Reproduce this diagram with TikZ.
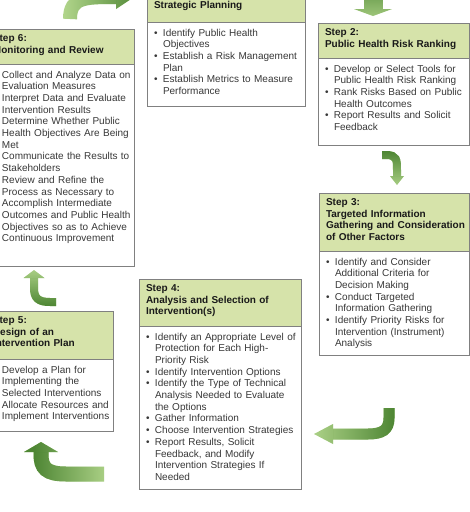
\documentclass[tikz,border=0pt]{standalone}
\usepackage{fontspec}
\setmainfont{Liberation Sans}
\usetikzlibrary{positioning,arrows.meta,fadings}

\definecolor{hdrgreen}{RGB}{214,227,170}
\definecolor{boxgray}{RGB}{128,128,128}
\definecolor{leafgreen}{RGB}{178,214,140}
\definecolor{mossgreen}{RGB}{78,134,52}

% the dark part of an arrow stays solid on one side
\tikzfading[name=keep right, left color=transparent!100, right color=transparent!0]
\tikzfading[name=keep left, left color=transparent!0, right color=transparent!100]
\tikzfading[name=keep top, top color=transparent!0, bottom color=transparent!100]
\tikzfading[name=keep bottom, top color=transparent!100, bottom color=transparent!0]

\hyphenpenalty=10000
\hfuzz=20pt

\newcommand{\stepitem}[1]{\hangindent=9pt\hangafter=1\noindent\hbox to 9pt{\textbullet\hfil}#1\par}

\tikzset{
  hdr/.style={draw=boxgray, line width=0.8pt, fill=hdrgreen, anchor=north west, outer sep=0pt,
    inner xsep=3pt, inner ysep=4.5pt, text height=8pt, align=left,
    execute at begin node={\leftskip=4pt\relax},
    font=\fontsize{10}{11.7}\selectfont\bfseries, text=black!90},
  bodybox/.style={draw=boxgray, line width=0.8pt, fill=white, outer sep=0pt,
    inner xsep=3pt, inner ysep=6pt, text height=8pt, align=left,
    execute at begin node={\leftskip=4pt\relax},
    font=\fontsize{10}{11.7}\selectfont, text=black!78},
  bentarrow/.style={line width=#1, line cap=butt},
}

\begin{document}
\begin{tikzpicture}[x=1pt, y=-1pt]
  \useasboundingbox (0,0) rectangle (470,512);

  % steps
  \node[hdr, text width=152pt, text height=16.5pt, text depth=9.5pt] (s1) at (147,-13) {Strategic Planning};
  \node[bodybox, below=0pt of s1, text width=152pt, text depth=64pt] (b1) {%
    \stepitem{Identify Public Health\newline Objectives}%
    \stepitem{Establish a Risk Management\newline Plan}%
    \stepitem{Establish Metrics to Measure\newline Performance}};

  \node[hdr, text width=145pt, text depth=18pt] (s2) at (318,23) {Step 2:\\Public Health Risk Ranking};
  \node[bodybox, below=0pt of s2, text width=145pt, text depth=67pt] (b2) {%
    \stepitem{Develop or Select Tools for\newline Public Health Risk Ranking}%
    \stepitem{Rank Risks Based on Public\newline Health Outcomes}%
    \stepitem{Report Results and Solicit\newline Feedback}};

  \node[hdr, text width=144pt, text depth=41pt] (s3) at (319,193) {Step 3:\\Targeted Information\\Gathering and Consideration\\of Other Factors};
  \node[bodybox, below=0pt of s3, text width=144pt, text depth=84pt] (b3) {%
    \stepitem{Identify and Consider\newline Additional Criteria for\newline Decision Making}%
    \stepitem{Conduct Targeted\newline Information Gathering}%
    \stepitem{Identify Priority Risks for\newline Intervention (Instrument)\newline Analysis}};

  \node[hdr, text width=156pt, text depth=30pt] (s4) at (139,279) {Step 4:\\Analysis and Selection of\\Intervention(s)};
  \node[bodybox, below=0pt of s4, text width=156pt, text depth=143pt] (b4) {%
    \stepitem{Identify an Appropriate Level of\newline Protection for Each High-\newline Priority Risk}%
    \stepitem{Identify Intervention Options}%
    \stepitem{Identify the Type of Technical\newline Analysis Needed to Evaluate\newline the Options}%
    \stepitem{Gather Information}%
    \stepitem{Choose Intervention Strategies}%
    \stepitem{Report Results, Solicit\newline Feedback, and Modify\newline Intervention Strategies If\newline Needed}};

  \node[hdr, text width=121pt, text depth=31pt] (s5) at (-14,311) {Step 5:\\Design of an\\Intervention Plan};
  \node[bodybox, below=0pt of s5, text width=121pt, text depth=52pt] (b5) {%
    \stepitem{Develop a Plan for\newline Implementing the\newline Selected Interventions}%
    \stepitem{Allocate Resources and\newline Implement Interventions}};

  \node[hdr, text width=142pt, text depth=18pt] (s6) at (-14,29) {Step 6:\\Monitoring and Review};
  \node[bodybox, below=0pt of s6, text width=142pt, text depth=182pt] (b6) {%
    \stepitem{Collect and Analyze Data on\newline Evaluation Measures}%
    \stepitem{Interpret Data and Evaluate\newline Intervention Results}%
    \stepitem{Determine Whether Public\newline Health Objectives Are Being\newline Met}%
    \stepitem{Communicate the Results to\newline Stakeholders}%
    \stepitem{Review and Refine the\newline Process as Necessary to\newline Accomplish Intermediate\newline Outcomes and Public Health\newline Objectives so as to Achieve\newline Continuous Improvement}};

  % bent arrows between the steps
  \coordinate (t61) at (70,19);   \coordinate (e61) at (134,-3);
  \coordinate (t12) at (373,-12); \coordinate (e12) at (373,16);
  \coordinate (t23) at (382,155); \coordinate (e23) at (397,185);
  \coordinate (t34) at (389,408); \coordinate (e34) at (314,434);
  \coordinate (t45) at (104,474); \coordinate (e45) at (41,442);
  \coordinate (t56) at (56,302);  \coordinate (e56) at (34,270);

  \draw[bentarrow=14pt, leafgreen, -{Triangle[width=24pt,length=18pt,line width=0pt]}]
    (t61) .. controls (70,-3) and (85,-3) .. (e61);
  \draw[bentarrow=14pt, mossgreen, path fading=keep right, -{Triangle[width=24pt,length=18pt,line width=0pt]}]
    (t61) .. controls (70,-3) and (85,-3) .. (e61);

  \draw[bentarrow=19pt, leafgreen, -{Triangle[width=38pt,length=7pt,line width=0pt]}] (t12) -- (e12);
  \draw[bentarrow=19pt, mossgreen, path fading=keep top, -{Triangle[width=38pt,length=7pt,line width=0pt]}] (t12) -- (e12);

  \draw[bentarrow=8pt, leafgreen, -{Triangle[width=14pt,length=9pt,line width=0pt]}]
    (t23) -- (386,155) .. controls (397,155) and (397,160) .. (397,170) -- (e23);
  \draw[bentarrow=8pt, mossgreen, path fading=keep top, -{Triangle[width=14pt,length=9pt,line width=0pt]}]
    (t23) -- (386,155) .. controls (397,155) and (397,160) .. (397,170) -- (e23);

  \draw[bentarrow=11pt, leafgreen, -{Triangle[width=20pt,length=19pt,line width=0pt]}]
    (t34) -- (389,418) .. controls (389,430) and (382,434) .. (368,434) -- (e34);
  \draw[bentarrow=11pt, mossgreen, path fading=keep right, -{Triangle[width=20pt,length=19pt,line width=0pt]}]
    (t34) -- (389,418) .. controls (389,430) and (382,434) .. (368,434) -- (e34);

  \draw[bentarrow=15pt, leafgreen, -{Triangle[width=34pt,length=10pt,line width=0pt]}]
    (t45) -- (66,474) .. controls (46,474) and (41,468) .. (41,454) -- (e45);
  \draw[bentarrow=15pt, mossgreen, path fading=keep left, -{Triangle[width=34pt,length=10pt,line width=0pt]}]
    (t45) -- (66,474) .. controls (46,474) and (41,468) .. (41,454) -- (e45);

  \draw[bentarrow=8pt, leafgreen, -{Triangle[width=21pt,length=8pt,line width=0pt]}]
    (t56) -- (50,302) .. controls (38,302) and (34,298) .. (34,288) -- (e56);
  \draw[bentarrow=8pt, mossgreen, path fading=keep bottom, -{Triangle[width=21pt,length=8pt,line width=0pt]}]
    (t56) -- (50,302) .. controls (38,302) and (34,298) .. (34,288) -- (e56);
\end{tikzpicture}
\end{document}
